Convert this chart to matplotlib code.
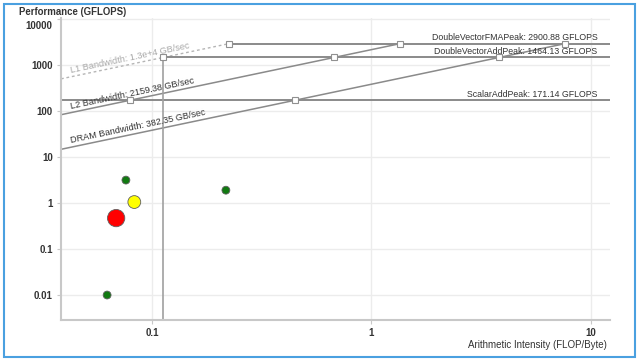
import numpy as np
import matplotlib.pyplot as plt
from matplotlib.patches import Rectangle
from matplotlib.transforms import ScaledTranslation

plt.rcParams['font.family'] = ['Liberation Sans', 'DejaVu Sans']

# roofs (GFLOPS) and bandwidths (GB/sec)
peak_names = ['DoubleVectorFMAPeak', 'DoubleVectorAddPeak', 'ScalarAddPeak']
peak_vals = [2900.88, 1464.13, 171.14]
bw_names = ['L1 Bandwidth', 'L2 Bandwidth', 'DRAM Bandwidth']
bw_vals = [13000.0, 2159.38, 382.35]
bw_labels = ['1.3e+4', '2159.38', '382.35']

# loops: arithmetic intensity, performance
pt_x = [0.0624, 0.076, 0.217, 0.083, 0.0686]
pt_y = [0.01, 3.15, 1.9, 1.05, 0.47]
pt_color = ['#117a11', '#117a11', '#117a11', '#ffff00', '#ff0000']
pt_size = [32, 32, 32, 85, 155]

x_ticks = [0.1, 1, 10]
x_ticklabels = ['0.1', '1', '10']
y_ticks = [0.01, 0.1, 1, 10, 100, 1000, 10000]
y_ticklabels = ['0.01', '0.1', '1', '10', '100', '1000', '10000']

xmin, xmax = 10 ** -1.415, 10 ** 1.087
ymin, ymax = 10 ** -2.543, 10 ** 4.022

fig = plt.figure(figsize=(6.4, 3.64), dpi=100)
ax = fig.add_axes([61 / 640, 44 / 364, 549 / 640, 302 / 364])
ax.set_xscale('log')
ax.set_yscale('log')
ax.set_xlim(xmin, xmax)
ax.set_ylim(ymin, ymax)

ax.set_xticks(x_ticks)
ax.set_xticklabels(x_ticklabels)
ax.set_yticks(y_ticks)
ax.set_yticklabels(y_ticklabels)
ax.minorticks_off()
ax.tick_params(axis='both', length=3, width=0.8, color='#c8c8c8', labelsize=7,
               labelcolor='#333333', pad=3)
for lab in ax.get_xticklabels() + ax.get_yticklabels():
    lab.set_fontweight('bold')
# top label sits a little lower, as in the original
top_lab = ax.get_yticklabels()[-1]
top_lab.set_transform(top_lab.get_transform() +
                      ScaledTranslation(0, -6 / 100, fig.dpi_scale_trans))
ax.grid(True, color='#ececec', lw=1.0)
ax.set_axisbelow(True)
for s in ['top', 'right']:
    ax.spines[s].set_visible(False)
for s in ['left', 'bottom']:
    ax.spines[s].set_color('#c8c8c8')
    ax.spines[s].set_linewidth(1.5)

line_c = '#8a8a8a'
fma = peak_vals[0]
fs = 6.3

# bandwidth diagonals, up to the top roof
for i, bw in enumerate(bw_vals):
    x_end = fma / bw
    xs = np.array([xmin, x_end])
    if i == 0:
        ax.plot(xs, bw * xs, color='#b5b5b5', lw=1.0, ls=(0, (2, 2)), zorder=2)
    else:
        ax.plot(xs, bw * xs, color=line_c, lw=1.1, zorder=2)

# horizontal roofs, from the L1 ridge to the right edge
for name, pk in zip(peak_names, peak_vals):
    x_start = max(pk / bw_vals[0], xmin)
    ax.plot([x_start, xmax], [pk, pk], color=line_c, lw=1.4, zorder=2)
    ax.annotate(f'{name}: {pk:.2f} GFLOPS', xy=(10 ** 1.03, pk), xytext=(0, 1),
                textcoords='offset points', ha='right', va='bottom',
                fontsize=fs, color='#333333')

# vertical line at the L1 / add ridge
x_v = peak_vals[1] / bw_vals[0]
ax.plot([x_v, x_v], [ymin, peak_vals[1]], color='#a0a0a0', lw=1.2, zorder=2)

# ridge markers
for bw in bw_vals:
    for pk in peak_vals:
        xr = pk / bw
        if xmin < xr < xmax:
            ax.plot(xr, pk, marker='s', ms=3.8, mfc='white', mec='#909090', mew=0.8,
                    zorder=3)

# bandwidth labels along the diagonals
fig.canvas.draw()
x_lab = 10 ** (-1.415 + 10 / 219.5)
for i, (name, bw, lab) in enumerate(zip(bw_names, bw_vals, bw_labels)):
    p1 = ax.transData.transform((x_lab, bw * x_lab))
    p2 = ax.transData.transform((x_lab * 10, bw * x_lab * 10))
    ang = np.degrees(np.arctan2(p2[1] - p1[1], p2[0] - p1[0]))
    col = '#a8a8a8' if i == 0 else '#333333'
    ax.annotate(f'{name}: {lab} GB/sec', xy=(x_lab, bw * x_lab), xytext=(0, 1.5),
                textcoords='offset points', rotation=ang, rotation_mode='anchor',
                ha='left', va='bottom', fontsize=fs + 0.3, color=col)

# loop points
ax.scatter(pt_x, pt_y, s=pt_size, c=pt_color, edgecolors='#606060', linewidths=0.6,
           zorder=4)

fig.text(19 / 640, 1 - 12 / 364, 'Performance (GFLOPS)', fontsize=6.9,
         fontweight='bold', color='#333333', ha='left', va='center')
fig.text(607 / 640, 1 - 345 / 364, 'Arithmetic Intensity (FLOP/Byte)', fontsize=7,
         color='#333333', ha='right', va='center')

fig.patches.append(Rectangle((3.5 / 640, 7.5 / 364), 631 / 640, 353 / 364,
                             transform=fig.transFigure, fill=False,
                             edgecolor='#4aa0e0', lw=1.5))

fig.savefig('out.png', dpi=100)
